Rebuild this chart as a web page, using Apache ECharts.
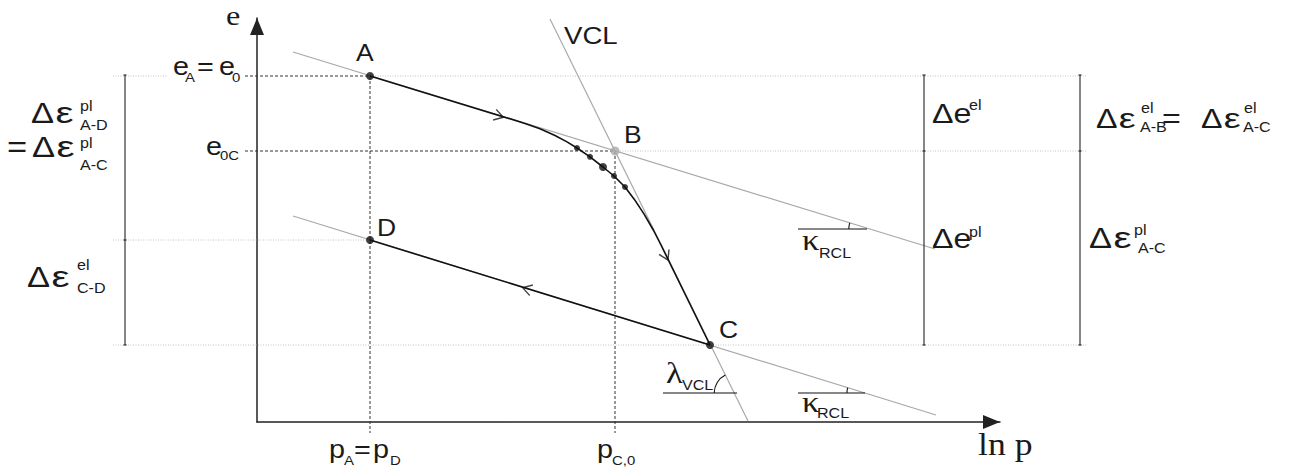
<!DOCTYPE html>
<html><head><meta charset="utf-8">
<script src="https://cdn.jsdelivr.net/npm/echarts@6/dist/echarts.min.js"></script>
<style>html,body{margin:0;padding:0;background:#fff}#c{width:1292px;height:472px}</style>
</head><body><div id="c"></div>
<script>
// ---- data (schematic units: x = ln p, y = e) ----
const pointA = [113, 346];
const pointB = [358, 271];
const pointC = [453, 77];
const pointD = [113, 182];
const rclUpper = [[36, 370], [678, 173]];
const rclLower = [[36, 206], [679, 7]];
const vcl = [[293, 403], [491, 1]];
const loadingPath = [[113,346],[268,298.6],[283,293.3],[298,286.5],[310,280.1],[320,274],[333,265.2],[346,255],[357,246],[368,235],[377.4,222.6],[387.1,207.9],[396.3,192],[404,177],[453,77]];
const unloadingPath = [[453,77],[113,182]];
const yieldDots = [[320,274],[333,265.2],[346,255],[357,246],[368,235]];
const yieldDotSizes = [6,6,8,6,6];
const arrowMarks = [[242,306],[409,166],[270,133]];
const arrowDirections = [-17, -64, 163];
const dashedGuides = [[[-12,346],[113,346]], [[-12,271],[358,271]], [[113,346],[113,-11]], [[358,271],[358,-11]]];
const dottedGuides = [[[-144,346],[-89,346]], [[113,346],[830,346]], [[358,271],[830,271]], [[-144,182],[113,182]], [[-144,77],[830,77]]];
const bracketX = [-132, 667, 823];
const bracketTicks = [[347,182,77],[347,271,77],[347,271,77]];
const angleBases = [[[406,29],[480,29]], [[541,29],[608,29]], [[541,193],[610,193]]];

const SANS = '"Liberation Sans", Arial, sans-serif';
const SERIF = '"Liberation Serif", "Times New Roman", serif';
const INK = '#1a1a1a';
const AX = {xAxisIndex:1, yAxisIndex:1};

function seg(data, color, width, type, z) {
  return Object.assign({type:'line', data:data, clip:false, symbol:'none', silent:true, animation:false,
    z: z || 2, lineStyle:{color:color, width:width, type:type || 'solid'}}, AX);
}
const series = [];
series.push(seg(rclUpper, '#a9a9a9', 1.2, 'solid', 2));
series.push(seg(rclLower, '#a9a9a9', 1.2, 'solid', 2));
series.push(seg(vcl, '#a9a9a9', 1.2, 'solid', 2));
dottedGuides.forEach(d => series.push(seg(d, '#c4c4c4', 1, [1,1.5], 1)));
dashedGuides.forEach(d => series.push(seg(d, '#333', 1, [3,2], 1)));
series.push(seg(loadingPath, '#111', 1.6, 'solid', 3));
series.push(seg(unloadingPath, '#111', 1.6, 'solid', 3));
bracketX.forEach((x, i) => {
  const t = bracketTicks[i];
  series.push(seg([[x, t[0]], [x, t[t.length-1]]], '#222', 1.1, 'solid', 2));
  t.forEach(y => series.push(seg([[x-1.5, y], [x+1.5, y]], '#222', 1.1, 'solid', 2)));
});
angleBases.forEach(d => series.push(seg(d, '#111', 1.2, 'solid', 2)));
function scat(o) { return Object.assign({type:'scatter', clip:false, silent:true, animation:false, z:5}, AX, o); }
series.push(scat({data:[pointA, pointC, pointD], symbolSize:8, itemStyle:{color:'#111'}}));
series.push(scat({data:[pointB], symbolSize:9, itemStyle:{color:'#aaaaaa'}}));
series.push(scat({data: yieldDots.map((p, i) => ({value:p, symbolSize:yieldDotSizes[i]})), itemStyle:{color:'#111'}}));
series.push(scat({data: arrowMarks.map((p, i) => ({value:p, symbolRotate:arrowDirections[i]})),
  symbol:'path://M0,0L10,6L0,12', symbolSize:[9,11],
  itemStyle:{color:'none', borderColor:'#111', borderWidth:1.3}}));

const hiddenAxis = {show:false, splitLine:{show:false}};
const chart = echarts.init(document.getElementById('c'), null, {renderer:'svg'});
chart.setOption({
  backgroundColor:'#fff',
  animation:false,
  grid:[{left:257, top:18, width:743, height:404}, {left:0, top:18, width:1292, height:404}],
  xAxis:[{type:'value', gridIndex:0, min:0, max:743, splitLine:{show:false}, axisTick:{show:false}, axisLabel:{show:false},
    axisLine:{show:true, onZero:false, symbol:['none','triangle'], symbolSize:[14,17], symbolOffset:[0,-8.5], lineStyle:{color:'#222', width:1.5}}},
    Object.assign({type:'value', gridIndex:1, min:-257, max:1035}, hiddenAxis)],
  yAxis:[{type:'value', gridIndex:0, min:0, max:404, splitLine:{show:false}, axisTick:{show:false}, axisLabel:{show:false},
    axisLine:{show:true, onZero:false, symbol:['none','triangle'], symbolSize:[14,17], symbolOffset:[0,-8.5], lineStyle:{color:'#222', width:1.5}}},
    Object.assign({type:'value', gridIndex:1, min:0, max:404}, hiddenAxis)],
  series: series
});

// ---- text annotations: [text, left px, baseline px, size, family, scaleX] ----
const texts = [
  ['e', 226, 25, 28, SERIF], ['ln p', 978, 455, 31, SERIF],
  ['A', 356, 61, 23], ['B', 624, 143, 23], ['C', 719, 338, 23], ['D', 377, 236, 23], ['VCL', 564, 44, 24],
  ['e', 173, 75, 25], ['A', 185, 82, 13], ['=', 197, 75, 25], ['e', 219, 75, 25], ['0', 232, 82, 13],
  ['e', 206, 155, 25], ['0C', 220, 160, 13],
  ['pl', 80, 111, 14], ['A-D', 80, 130, 14],
  ['=', 7, 157, 30], ['pl', 80, 148, 14], ['A-C', 80, 170, 14],
  ['el', 77, 270, 14], ['C-D', 77, 293, 14],
  ['Δe', 932, 123, 28], ['el', 969, 110, 14],
  ['Δe', 932, 248, 28], ['pl', 969, 237, 14],
  ['el', 1141, 113, 14], ['A-B', 1140, 132, 14], ['=', 1162, 128, 28],
  ['el', 1244, 113, 14], ['A-C', 1243, 132, 14],
  ['pl', 1134, 235, 14], ['A-C', 1138, 253, 14],
  ['p', 329, 458, 25], ['A', 344, 465, 13], ['=', 354, 458, 25], ['p', 373, 458, 25], ['D', 390, 465, 13],
  ['p', 597, 458, 25], ['C,0', 612, 465, 13],
  ['λ', 666, 383, 30, SERIF], ['VCL', 682, 390, 14],
  ['κ', 802, 412, 30, SERIF], ['RCL', 817, 418, 14],
  ['κ', 802, 250, 30, SERIF], ['RCL', 819, 258, 14]
];
// Δε groups: [left, baseline, size]
const deltaEps = [[31, 123, 30], [32, 157, 30], [27, 287, 30], [1096, 128, 28], [1201, 128, 28], [1089, 248, 30]];
deltaEps.forEach(([x, b, s]) => {
  texts.push(['Δ', x, b, s, SANS, 1.15]);
  texts.push(['ε', x + 24.5 * s / 30, b, s, SANS, 1.35]);
});
const graphics = texts.map(t => {
  const fam = t[4] || SANS;
  const k = fam === SERIF ? 0.3375 : 0.3465;
  return {type:'text', x:t[1], y:t[2] - k * t[3], scaleX:t[5] || 1.15, silent:true, z:10,
    style:{text:t[0], font: t[3] + 'px ' + fam, fill:INK, textAlign:'left', textVerticalAlign:'middle'}};
});

// angle arcs at intersections of lines with the base lines
function lineX(line, y) {
  const [p, q] = line;
  return p[0] + (y - p[1]) * (q[0] - p[0]) / (q[1] - p[1]);
}
function slopeAngle(line) {
  const a = chart.convertToPixel(AX, line[0]);
  const b = chart.convertToPixel(AX, line[1]);
  return Math.atan(Math.abs((b[1] - a[1]) / (b[0] - a[0])));
}
const arcDefs = [[vcl, angleBases[0][0][1], 20], [rclLower, angleBases[1][0][1], 18], [rclUpper, angleBases[2][0][1], 21]];
arcDefs.forEach(([line, y, r]) => {
  const c = chart.convertToPixel(AX, [lineX(line, y), y]);
  graphics.push({type:'arc', silent:true, z:10,
    shape:{cx:c[0], cy:c[1], r:r, startAngle:Math.PI, endAngle:Math.PI + slopeAngle(line), clockwise:true},
    style:{stroke:'#111', fill:'none', lineWidth:1.1}});
});
chart.setOption({graphic: graphics});
</script></body></html>
